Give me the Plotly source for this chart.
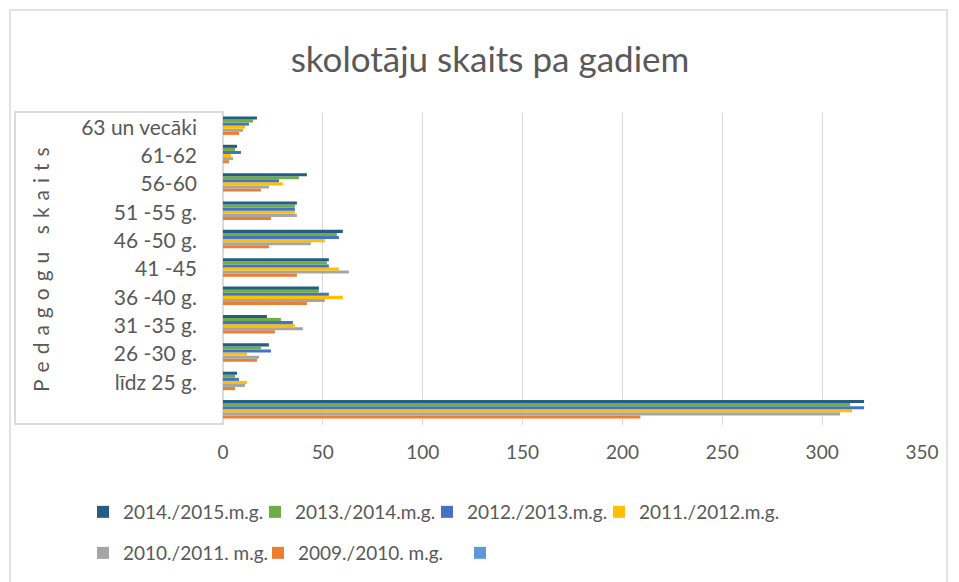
import plotly.graph_objects as go

categories = [" ", "līdz 25 g.", "26 -30 g.", "31 -35 g.", "36 -40 g.", "41 -45",
              "46 -50 g.", "51 -55 g.", "56-60", "61-62", "63 un vecāki"]

s2014 = [321, 7, 23, 22, 48, 53, 60, 37, 42, 7, 17]
s2013 = [314, 6, 19, 29, 48, 52, 57, 36, 38, 6, 15]
s2012 = [321, 8, 24, 35, 53, 53, 58, 36, 28, 9, 13]
s2011 = [315, 12, 12, 36, 60, 58, 51, 36, 30, 4, 11]
s2010 = [309, 11, 18, 40, 51, 63, 44, 37, 23, 5, 10]
s2009 = [209, 6, 17, 26, 42, 37, 23, 24, 19, 3, 8]
s_blank = [None] * len(categories)

series_names = ["", "2009./2010. m.g.", "2010./2011. m.g.", "2011./2012.m.g.",
                "2012./2013.m.g.", "2013./2014.m.g.", "2014./2015.m.g."]
series_values = [s_blank, s2009, s2010, s2011, s2012, s2013, s2014]
colors = ["#5B9BD5", "#ED7D31", "#A5A5A5", "#FFC000", "#4472C4", "#70AD47", "#255E84"]

x_ticks = [0, 50, 100, 150, 200, 250, 300, 350]

# the page body adds an 8px offset; figure coordinates are screen coordinates minus 8
OFF = 8
W, H = 959 - OFF, 582 - OFF
L, R, T, B = 223 - OFF, 922 - OFF, 113 - OFF, 425 - OFF

def px_x(p):  # p in screen pixels
    return (p - OFF - L) / (R - L)

def px_y(p):
    return (B - (p - OFF)) / (B - T)

gray = "#595959"
font_family = "Lato, 'Liberation Sans', sans-serif"

# legend entry placement (screen px of the entry's left edge, row centre)
legend_pos = [(460, 553), (258, 553), (83, 553), (599, 512), (427, 512), (255, 512), (83, 512)]

fig = go.Figure()
legends = {}
for i, (name, vals, col) in enumerate(zip(series_names, series_values, colors)):
    lid = "legend" if i == 0 else f"legend{i + 1}"
    fig.add_trace(go.Bar(
        y=categories, x=vals, name=name, orientation="h",
        marker=dict(color=col, line=dict(width=0)),
        legend=lid,
    ))
    lx, ly = legend_pos[i]
    legends[lid] = dict(orientation="h", xref="container", yref="container",
                        x=(lx - OFF) / W, y=1 - (ly - OFF) / H,
                        xanchor="left", yanchor="middle",
                        font=dict(size=19, color=gray), bgcolor="rgba(0,0,0,0)")

fig.update_layout(
    width=W, height=H,
    margin=dict(l=L, r=W - R, t=T, b=H - B, autoexpand=False),
    paper_bgcolor="white", plot_bgcolor="white",
    barmode="group", bargap=0.24, bargroupgap=0,
    font=dict(family=font_family, color=gray, size=19),
    title=dict(text="skolotāju skaits pa gadiem", x=(490 - OFF) / W, xanchor="center",
               y=1 - (60 - OFF) / H, yanchor="middle",
               font=dict(size=35, color=gray, family=font_family)),
    xaxis=dict(range=[0, 350], tickvals=x_ticks, showgrid=True, gridcolor="#D9D9D9",
               gridwidth=1, zeroline=False, showline=False, ticks="outside",
               ticklen=10, tickcolor="rgba(0,0,0,0)", automargin=False,
               tickfont=dict(size=19, color=gray), fixedrange=True),
    yaxis=dict(type="category", categoryorder="array", categoryarray=categories,
               range=[-0.5, len(categories) - 0.5], showgrid=False, zeroline=False,
               showline=False, ticks="", ticklabelstandoff=25, automargin=False,
               tickfont=dict(size=21, color=gray), fixedrange=True),
    showlegend=True,
    annotations=[dict(text="P\u2004e\u2004d\u2004a\u2004g\u2004o\u2004g\u2004u\u2002\u2004s\u2004k\u2004a\u2004i\u2004t\u2004s",
                      xref="paper", yref="paper", x=px_x(40), y=px_y(270),
                      xanchor="center", yanchor="middle", textangle=-90,
                      showarrow=False, font=dict(size=21, color=gray))],
    shapes=[
        dict(type="rect", xref="paper", yref="paper",
             x0=px_x(10), x1=px_x(947), y0=px_y(10), y1=px_y(600),
             line=dict(color="#D9D9D9", width=1.5), fillcolor="rgba(0,0,0,0)", layer="below"),
        dict(type="rect", xref="paper", yref="paper",
             x0=px_x(15), x1=px_x(223), y0=px_y(112), y1=px_y(424),
             line=dict(color="#D0D0D0", width=1.5), fillcolor="rgba(0,0,0,0)", layer="below"),
    ],
)
fig.update_layout(**legends)

fig.write_html("out.html")
